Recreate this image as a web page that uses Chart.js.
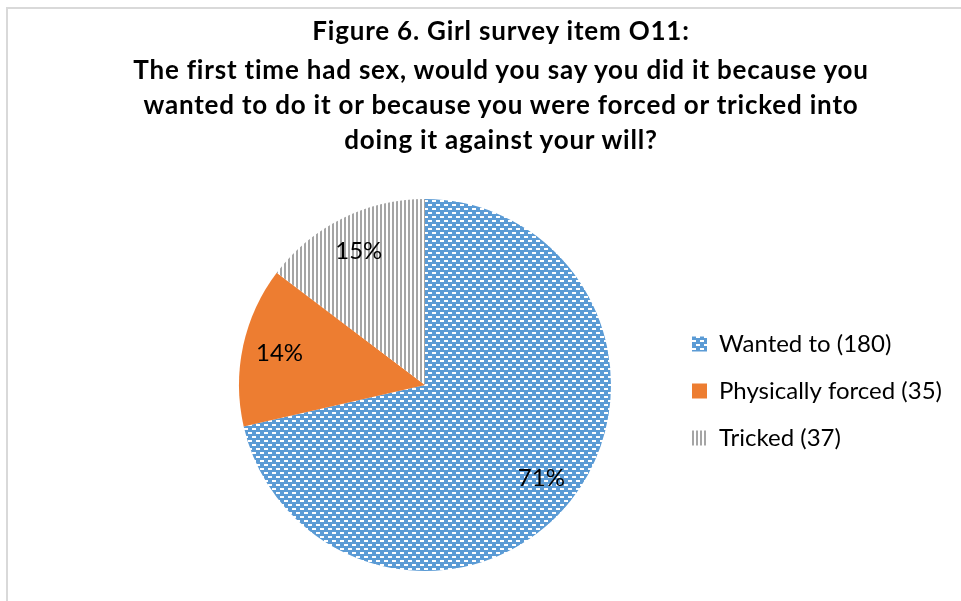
<!DOCTYPE html>
<html lang="en">
<head>
  <meta charset="UTF-8">
  <title>Figure 6 - Girl survey item O11</title>
  <script src="https://cdn.jsdelivr.net/npm/chart.js"></script>
  <style>
    * { margin: 0; padding: 0; }
    body {
      width: 961px;
      height: 601px;
      overflow: hidden;
      background: #fff;
      font-family: Lato, "Open Sans", Arial, sans-serif;
    }
    .frame {
      position: absolute;
      left: 6px;
      top: 7px;
      width: 1000px;
      height: 650px;
      border: 2px solid #d9d9d9;
    }
    .title {
      position: absolute;
      left: 0;
      top: 13px;
      width: 1002px;
      text-align: center;
      font-weight: bold;
      font-size: 26px;
      letter-spacing: 0.8px;
      line-height: 35px;
      color: #000;
    }
    .title .first { margin-bottom: 4px; }
    #chartBox {
      position: absolute;
      left: 0;
      top: 0;
      width: 961px;
      height: 601px;
    }
  </style>
</head>
<body>
  <div class="frame"></div>
  <div id="chartBox">
    <canvas id="pieChart"></canvas>
  </div>
  <div class="title">
    <div class="first">Figure 6. Girl survey item O11:</div>
    <div>The first time had sex, would you say you did it because you<br>
    wanted to do it or because you were forced or tricked into<br>
    doing it against your will?</div>
  </div>

  <script>
    const categories = ['Wanted to (180)', 'Physically forced (35)', 'Tricked (37)'];
    const counts = [180, 35, 37];

    // Excel style fills: blue with white dashes, plain orange, grey vertical stripes
    function makePattern(kind) {
      const c = document.createElement('canvas');
      const g = c.getContext('2d');
      if (kind === 'dash') {
        c.width = 8; c.height = 8;
        g.fillStyle = '#5b9bd5';
        g.fillRect(0, 0, 8, 8);
        g.fillStyle = '#ffffff';
        g.fillRect(0, 0, 4, 2);
        g.fillRect(4, 4, 4, 2);
      } else {
        c.width = 4; c.height = 4;
        g.fillStyle = '#ffffff';
        g.fillRect(0, 0, 4, 4);
        g.fillStyle = '#a5a5a5';
        g.fillRect(0, 0, 2, 4);
      }
      return g.createPattern(c, 'repeat');
    }

    const fills = [makePattern('dash'), '#ed7d31', makePattern('stripe')];

    const percentLabels = {
      id: 'percentLabels',
      afterDatasetsDraw(chart) {
        const ctx = chart.ctx;
        const meta = chart.getDatasetMeta(0);
        const total = counts.reduce((a, b) => a + b, 0);
        ctx.save();
        ctx.font = '24px Lato, "Open Sans", Arial, sans-serif';
        ctx.fillStyle = '#000';
        ctx.textAlign = 'center';
        ctx.textBaseline = 'middle';
        meta.data.forEach((arc, i) => {
          const p = arc.getProps(['x', 'y', 'startAngle', 'endAngle', 'outerRadius']);
          const mid = (p.startAngle + p.endAngle) / 2;
          const r = p.outerRadius * 0.8;
          const pct = Math.round(counts[i] / total * 100) + '%';
          ctx.fillText(pct, p.x + Math.cos(mid) * r, p.y + Math.sin(mid) * r);
        });
        ctx.restore();
      }
    };

    new Chart(document.getElementById('pieChart'), {
      type: 'pie',
      data: {
        labels: categories,
        datasets: [{
          data: counts,
          backgroundColor: fills,
          borderWidth: 0
        }]
      },
      options: {
        responsive: true,
        maintainAspectRatio: false,
        animation: false,
        layout: {
          padding: { left: 181, right: 9, top: 199, bottom: 30 }
        },
        plugins: {
          legend: {
            position: 'right',
            title: { display: true, text: '', padding: 0, font: { size: 10 } },
            labels: {
              boxWidth: 15,
              boxHeight: 15,
              padding: 23,
              color: '#000',
              font: { size: 24, family: 'Lato, "Open Sans", Arial, sans-serif' }
            }
          },
          tooltip: { enabled: false }
        }
      },
      plugins: [percentLabels]
    });
  </script>
</body>
</html>
